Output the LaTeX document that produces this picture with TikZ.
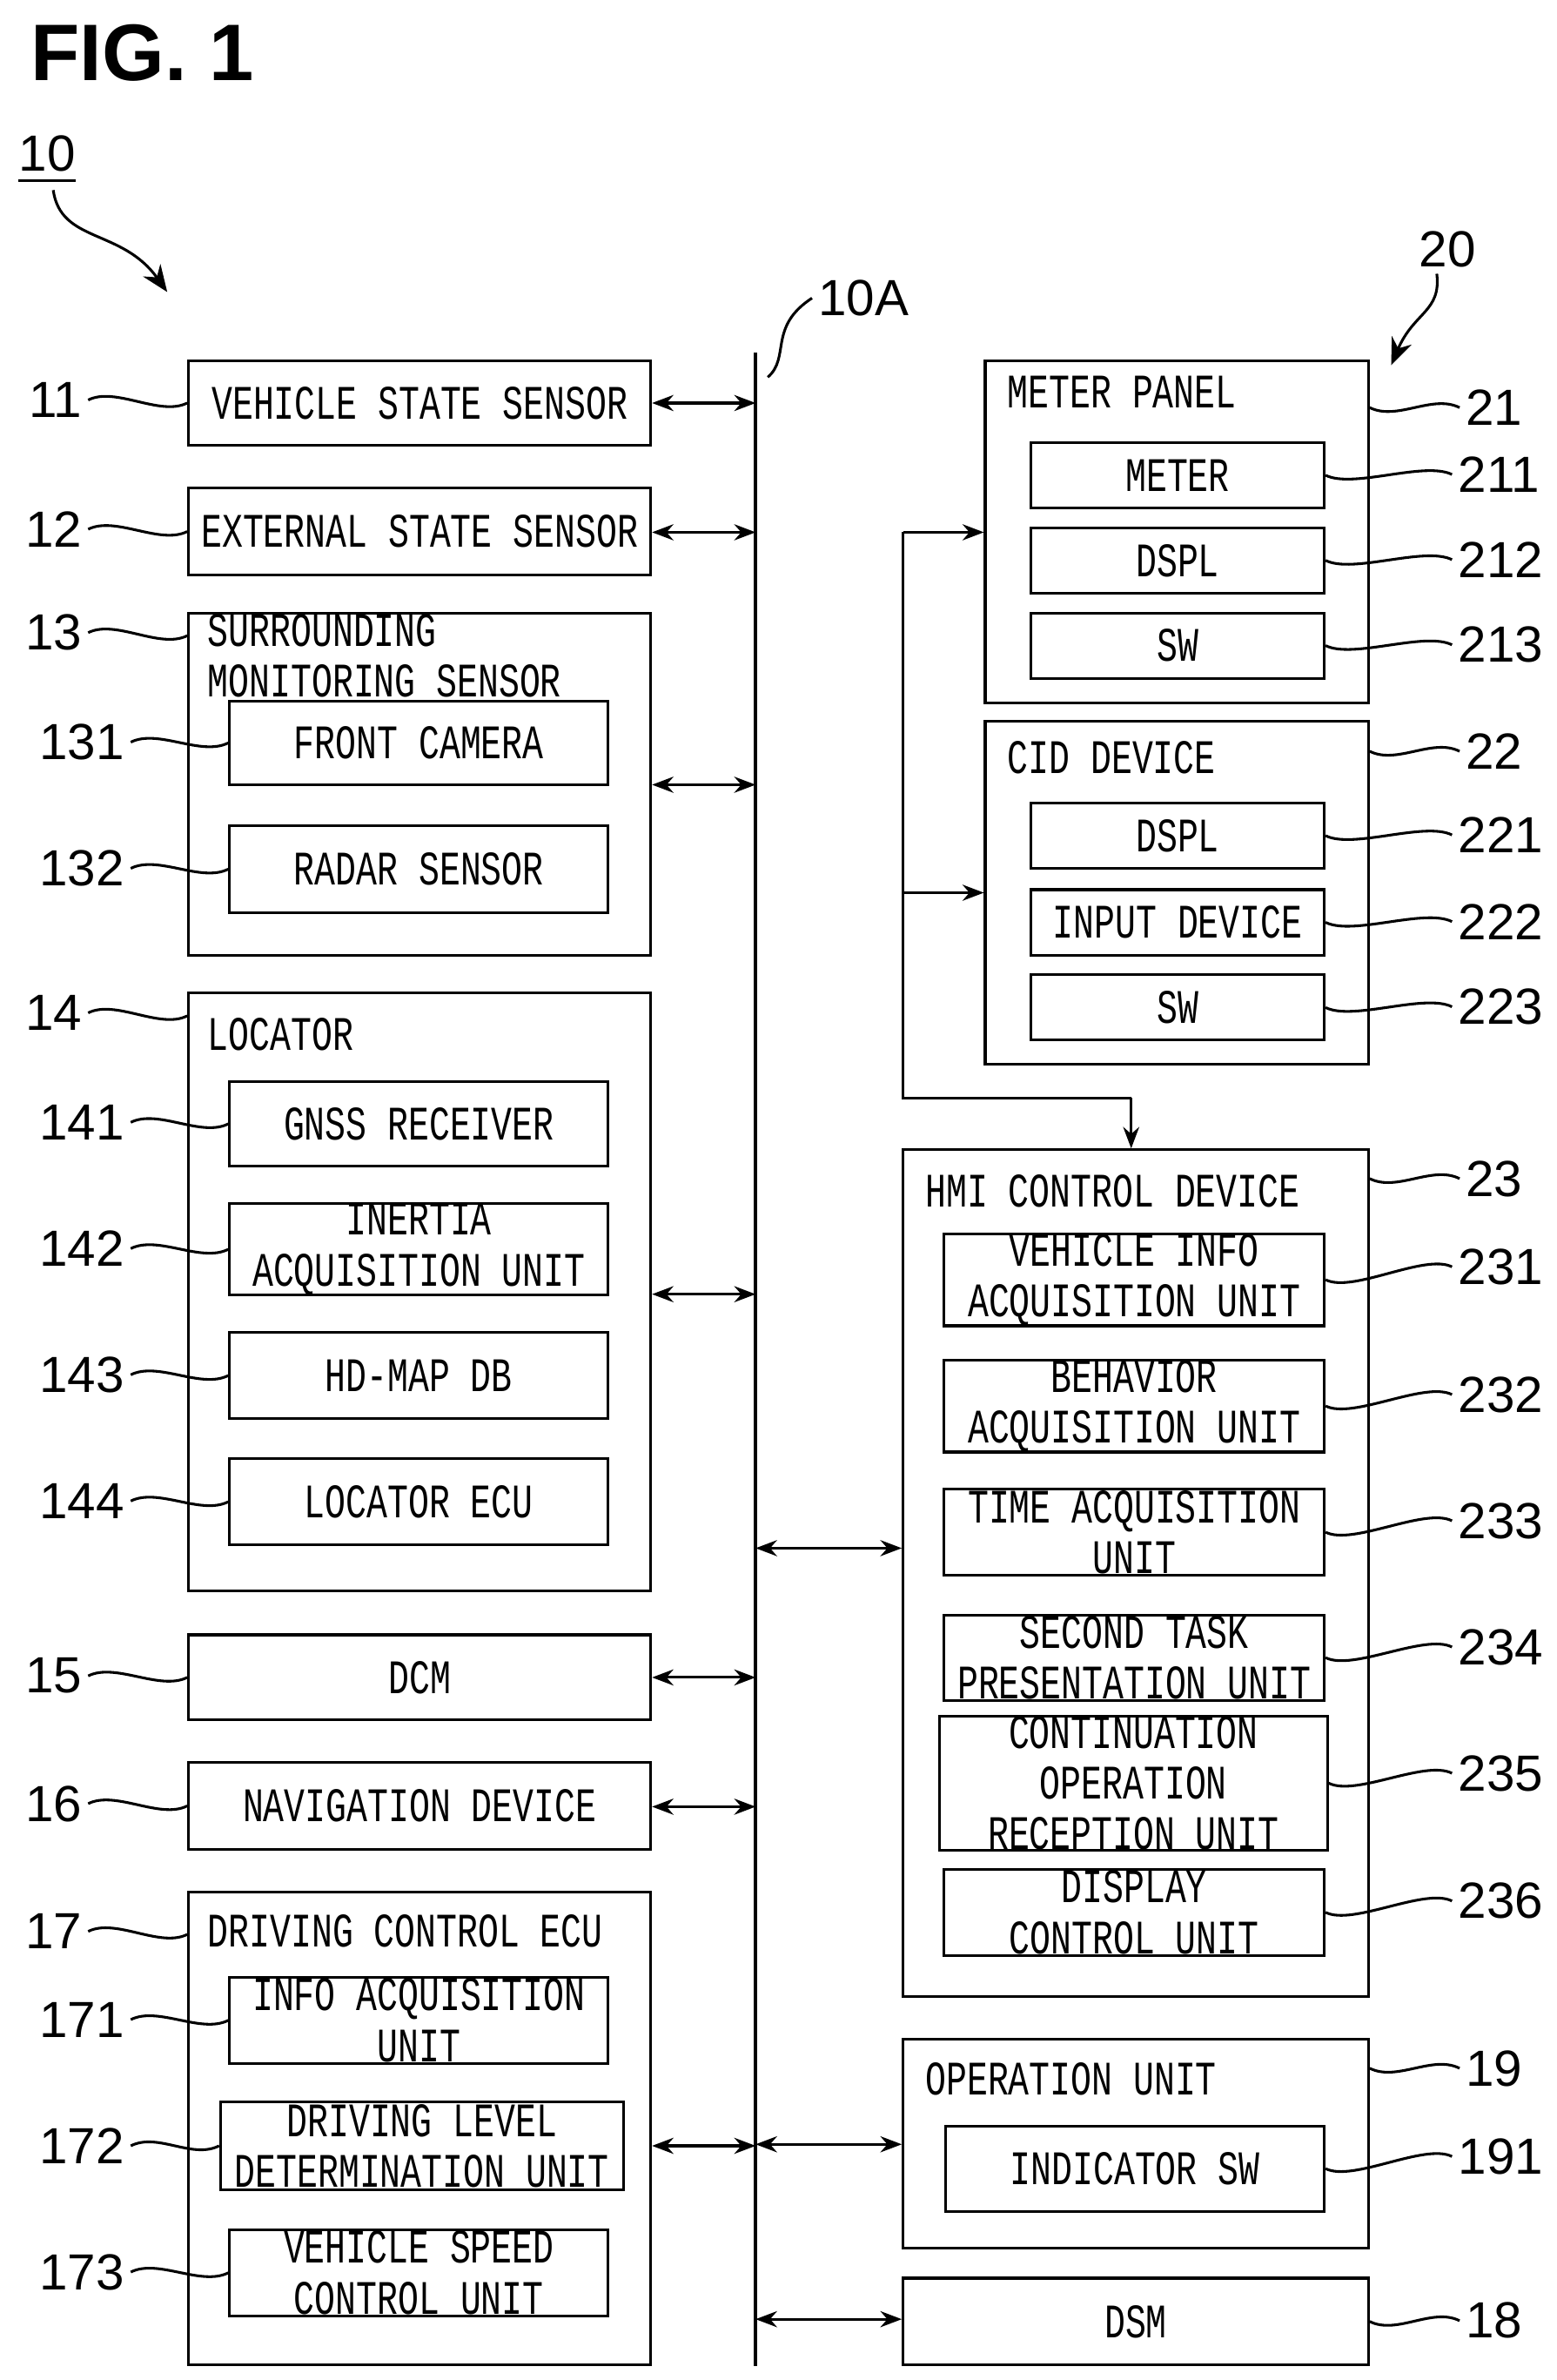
\documentclass[tikz,border=0pt]{standalone}
\usepackage{fontspec}
\setmainfont{Liberation Sans}
\newfontfamily\boxfont{Liberation Mono}
\usetikzlibrary{arrows.meta}
\tikzset{
  box/.style={draw,line width=0.5pt,inner sep=0pt,font=\boxfont\fontsize{9}{8.5}\selectfont,align=center},
  ttl/.style={anchor=west,inner sep=0pt,font=\boxfont\fontsize{9}{8.5}\selectfont,align=left},
  num/.style={inner sep=1pt,font=\fontsize{9.5}{10}\selectfont},
  lead/.style={line width=0.5pt},
  link/.style={line width=0.5pt,{Stealth[length=4pt,width=3pt]}-{Stealth[length=4pt,width=3pt]}},
  feed/.style={line width=0.5pt,-{Stealth[length=4pt,width=3pt]}}
}
\newcommand\sq[1]{\scalebox{0.72}[1]{#1}}
% box from corner to corner (display pixels)
\newcommand\bx[6]{\node[box,minimum width={(#4-#2)*0.01cm},minimum height={(#5-#3)*0.01cm}]
  (#1) at ({(#2+#4)/2},{(#3+#5)/2}) {#6};}
% number on the left with tilde
\newcommand\lnum[3]{\node[num,anchor=east] (n#1) at (#2) {#1};
  \draw[lead] (n#1.east) .. controls +(18,-9) and +(-18,9) .. (#3);}
\newcommand\rnum[3]{\node[num,anchor=west] (n#1) at (#2) {#1};
  \draw[lead] (#3) .. controls +(18,9) and +(-18,-9) .. (n#1.west);}
\begin{document}
\begin{tikzpicture}[x=0.01cm,y=-0.01cm]
\useasboundingbox (0,0) rectangle (1024,1565);
\node[anchor=west,font=\bfseries\fontsize{15}{15}\selectfont] (fig) at (8,35) {FIG. 1};
% left column
\bx{b11}{124}{237}{428}{293}{\sq{VEHICLE STATE SENSOR}}
\bx{b12}{124}{321}{428}{378}{\sq{EXTERNAL STATE SENSOR}}
\bx{b13}{124}{403}{428}{628}{}
\node[ttl] (t13) at (136,431) {\sq{SURROUNDING}\\[1pt]\sq{MONITORING SENSOR}};
\bx{b131}{151}{461}{400}{516}{\sq{FRONT CAMERA}}
\bx{b132}{151}{543}{400}{600}{\sq{RADAR SENSOR}}
\bx{b14}{124}{653}{428}{1046}{}
\node[ttl] (t14) at (136,680) {\sq{LOCATOR}};
\bx{b141}{151}{711}{400}{767}{\sq{GNSS RECEIVER}}
\bx{b142}{151}{793}{400}{850}{\sq{INERTIA}\\[1pt]\sq{ACQUISITION UNIT}}
\bx{b143}{151}{876}{400}{933}{\sq{HD-MAP DB}}
\bx{b144}{151}{959}{400}{1016}{\sq{LOCATOR ECU}}
\bx{b15}{124}{1075}{428}{1131}{\sq{DCM}}
\bx{b16}{124}{1159}{428}{1216}{\sq{NAVIGATION DEVICE}}
\bx{b17}{124}{1244}{428}{1555}{}
\node[ttl] (t17) at (136,1270) {\sq{DRIVING CONTROL ECU}};
\bx{b171}{151}{1300}{400}{1357}{\sq{INFO ACQUISITION}\\[1pt]\sq{UNIT}}
\bx{b172}{145}{1382}{410}{1440}{\sq{DRIVING LEVEL}\\[1pt]\sq{DETERMINATION UNIT}}
\bx{b173}{151}{1466}{400}{1523}{\sq{VEHICLE SPEED}\\[1pt]\sq{CONTROL UNIT}}
% right column
\bx{b21}{648}{237}{900}{462}{}
\node[ttl] (t21) at (662,258) {\sq{METER PANEL}};
\bx{b211}{678}{291}{871}{334}{\sq{METER}}
\bx{b212}{678}{347}{871}{390}{\sq{DSPL}}
\bx{b213}{678}{403}{871}{446}{\sq{SW}}
\bx{b22}{648}{474}{900}{700}{}
\node[ttl] (t22) at (662,498) {\sq{CID DEVICE}};
\bx{b221}{678}{528}{871}{571}{\sq{DSPL}}
\bx{b222}{678}{585}{871}{628}{\sq{INPUT DEVICE}}
\bx{b223}{678}{641}{871}{684}{\sq{SW}}
\bx{b23}{594}{756}{900}{1313}{}
\node[ttl] (t23) at (608,783) {\sq{HMI CONTROL DEVICE}};
\bx{b231}{621}{813}{871}{870}{\sq{VEHICLE INFO}\\[1pt]\sq{ACQUISITION UNIT}}
\bx{b232}{621}{896}{871}{953}{\sq{BEHAVIOR}\\[1pt]\sq{ACQUISITION UNIT}}
\bx{b233}{621}{979}{871}{1036}{\sq{TIME ACQUISITION}\\[1pt]\sq{UNIT}}
\bx{b234}{621}{1062}{871}{1118}{\sq{SECOND TASK}\\[1pt]\sq{PRESENTATION UNIT}}
\bx{b235}{618}{1130}{873}{1215}{\sq{CONTINUATION}\\[1pt]\sq{OPERATION}\\[1pt]\sq{RECEPTION UNIT}}
\bx{b236}{621}{1229}{871}{1286}{\sq{DISPLAY}\\[1pt]\sq{CONTROL UNIT}}
\bx{b19}{594}{1341}{900}{1478}{}
\node[ttl] (t19) at (608,1367) {\sq{OPERATION UNIT}};
\bx{b191}{622}{1398}{871}{1454}{\sq{INDICATOR SW}}
\bx{b18}{594}{1498}{900}{1555}{\sq{DSM}}
% bus 10A
\coordinate (busT) at (497,232);
\coordinate (busB) at (497,1556);
\draw[line width=0.7pt] (busT) -- (busB);
\foreach \b/\y in {b11/265,b12/350,b13/516,b14/851,b15/1103,b16/1188,b17/1411}
  \draw[link] (\b.east |- 0,\y) -- (497,\y);
\foreach \b/\y in {b23/1018,b19/1410,b18/1525}
  \draw[link] (497,\y) -- (\b.west |- 0,\y);
% HMI feeds
\coordinate (fd) at (594,722);
\draw[line width=0.5pt] (594,350) -- (fd) -- (744,722);
\draw[feed] (594,350) -- (b21.west |- 0,350);
\draw[feed] (594,587) -- (b22.west |- 0,587);
\draw[feed] (744,722) -- (b23.north -| 744,0);
% labels
\node[num] (n10A) at (568,196) {10A};
\draw[lead] (505,248) .. controls (520,235) and (505,215) .. (n10A.west);
\node[num] (n10) at (31,101) {10};
\draw[lead] (12,119) -- (50,119);
\draw[lead,-{Stealth[length=5pt,width=4pt]}] (35,125) .. controls (40,160) and (80,150) .. (110,192);
\node[num] (n20) at (952,164) {20};
\draw[lead,-{Stealth[length=5pt,width=4pt]}] (945,180) .. controls (948,205) and (930,205) .. (915,240);
\lnum{11}{58,263}{b11.west}
\lnum{12}{58,348}{b12.west}
\lnum{13}{58,416}{b13.north west |- 0,418}
\lnum{131}{86,488}{b131.west}
\lnum{132}{86,571}{b132.west}
\lnum{14}{58,666}{b14.north west |- 0,668}
\lnum{141}{86,738}{b141.west}
\lnum{142}{86,821}{b142.west}
\lnum{143}{86,904}{b143.west}
\lnum{144}{86,987}{b144.west}
\lnum{15}{58,1102}{b15.west}
\lnum{16}{58,1186}{b16.west}
\lnum{17}{58,1270}{b17.north west |- 0,1272}
\lnum{171}{86,1328}{b171.west}
\lnum{172}{86,1411}{b172.west}
\lnum{173}{86,1494}{b173.west}
\rnum{21}{960,268}{b21.north east |- 0,268}
\rnum{211}{955,312}{b211.east}
\rnum{212}{955,368}{b212.east}
\rnum{213}{955,424}{b213.east}
\rnum{22}{960,494}{b22.north east |- 0,494}
\rnum{221}{955,549}{b221.east}
\rnum{222}{955,606}{b222.east}
\rnum{223}{955,662}{b223.east}
\rnum{23}{960,775}{b23.north east |- 0,775}
\rnum{231}{955,833}{b231.east}
\rnum{232}{955,917}{b232.east}
\rnum{233}{955,1000}{b233.east}
\rnum{234}{955,1083}{b234.east}
\rnum{235}{955,1166}{b235.east}
\rnum{236}{955,1250}{b236.east}
\rnum{19}{960,1360}{b19.north east |- 0,1360}
\rnum{191}{955,1418}{b191.east}
\rnum{18}{960,1526}{b18.east}
\end{tikzpicture}
\end{document}
